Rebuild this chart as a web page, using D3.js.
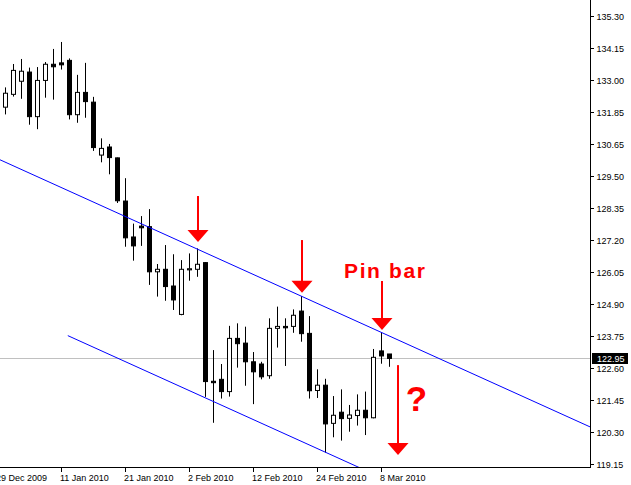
<!DOCTYPE html>
<html><head><meta charset="utf-8">
<script src="https://cdn.jsdelivr.net/npm/d3@7"></script>
<style>html,body{margin:0;padding:0;background:#fff;}svg{display:block;}</style>
</head><body>
<script>
// ---- data ----
const dates = ["2009-12-29","2009-12-30","2009-12-31","2010-01-04","2010-01-05","2010-01-06","2010-01-07","2010-01-08",
"2010-01-11","2010-01-12","2010-01-13","2010-01-14","2010-01-15","2010-01-18","2010-01-19","2010-01-20",
"2010-01-21","2010-01-22","2010-01-25","2010-01-26","2010-01-27","2010-01-28","2010-01-29","2010-02-01",
"2010-02-02","2010-02-03","2010-02-04","2010-02-05","2010-02-08","2010-02-09","2010-02-10","2010-02-11",
"2010-02-12","2010-02-15","2010-02-16","2010-02-17","2010-02-18","2010-02-19","2010-02-22","2010-02-23",
"2010-02-24","2010-02-25","2010-02-26","2010-03-01","2010-03-02","2010-03-03","2010-03-04","2010-03-05",
"2010-03-08","2010-03-09"];
const open  = [null,131.97,132.43,132.90,133.23,131.63,132.93,133.51,133.56,133.65,131.70,132.50,132.15,130.25,130.54,130.15,
128.60,127.31,127.70,127.68,126.06,126.15,125.55,124.53,126.13,126.15,126.39,122.13,122.20,121.76,123.67,123.50,
122.83,122.75,122.33,124.03,124.10,124.10,124.65,123.85,121.80,121.99,120.62,121.02,120.80,120.90,121.09,120.82,
123.22,123.11];
const high  = [null,132.68,133.52,133.70,133.39,133.41,133.59,134.06,134.31,133.72,133.13,133.56,132.34,130.85,130.65,130.16,
129.42,127.79,128.06,128.31,126.34,127.02,126.69,126.48,126.72,126.90,126.41,123.25,122.75,124.12,124.21,124.09,
123.18,122.83,124.39,124.81,124.39,124.71,125.19,124.47,122.56,122.22,121.60,121.84,121.28,121.66,121.76,123.29,
123.89,123.11];
const low   = [null,131.71,132.35,132.27,131.34,131.18,132.31,132.24,133.32,131.53,131.41,131.59,130.40,129.99,129.56,128.53,
126.96,126.46,126.99,125.59,125.17,125.02,124.69,124.50,125.74,125.88,121.57,120.64,121.51,121.58,122.62,121.97,
121.31,122.20,122.22,123.34,122.68,123.87,123.55,121.51,121.53,119.57,120.12,120.00,120.32,120.54,120.20,120.80,
122.76,122.65];
const close = [null,132.47,133.29,133.26,131.63,132.93,133.51,133.42,133.49,131.70,132.50,132.17,130.52,130.49,130.16,128.61,
127.28,126.99,127.64,126.06,126.15,125.53,125.05,126.15,126.17,126.33,122.12,122.08,121.76,123.67,123.48,122.83,
122.47,122.29,124.03,124.10,124.05,124.50,123.84,121.79,121.99,120.60,120.91,120.79,120.92,121.09,120.82,122.99,
123.04,122.95];
const priceLabels = ["135.30","134.15","133.00","131.85","130.65","129.50","128.35","127.20","126.05","124.90",
"123.75","122.60","121.45","120.30","119.15"];
const dateTicks = ["2009-12-29","2010-01-11","2010-01-21","2010-02-02","2010-02-12","2010-02-24","2010-03-08"];
const lastPrice = 122.95;
// channel: two anchor points on the upper line (bar index, price), parallel offset, lower line start bar
const channelUpper = [{i:25, p:126.88},{i:48, p:123.89}];
const channelOffset = -5.21;
const channelLowerStart = 8.85;
// arrows: bar index, shaft top price, tip price
const arrowIdx = [25, 38, 48, 50];
const arrowTop = [128.78, 127.20, 125.73, 122.71];
const arrowTip = [127.13, 125.31, 123.97, 119.48];

// ---- layout ----
const W = 631, H = 485, plotR = 590, plotB = 467;
const FONT = "'Liberation Sans', Arial, sans-serif";
const svg = d3.select("body").append("svg").attr("width", W).attr("height", H);

const x = d3.scaleLinear().domain([0, dates.length - 1]).range([-3, -3 + 8 * (dates.length - 1)]);
const y = d3.scaleLinear().domain([119.15, 135.30]).range([464.3, 14.4]);
const yTick = d3.scalePoint().domain(priceLabels).range([15.7, 464.3]);
const fmt = d3.timeFormat("%-d %b %Y");
const parse = d3.timeParse("%Y-%m-%d");

svg.append("defs").append("clipPath").attr("id","plot")
  .append("rect").attr("x",0).attr("y",0).attr("width",plotR).attr("height",plotB);

const plot = svg.append("g").attr("clip-path","url(#plot)");

// current price line
plot.append("line").attr("x1",0).attr("x2",plotR)
  .attr("y1",Math.round(y(lastPrice))+0.5).attr("y2",Math.round(y(lastPrice))+0.5)
  .attr("stroke","#c0c0c0").attr("stroke-width",1);

// candles
const bars = d3.range(dates.length).filter(i => open[i] !== null);
const cg = plot.append("g");
bars.forEach(i => {
  const c = Math.round(x(i));
  cg.append("line").attr("x1",c+0.5).attr("x2",c+0.5)
    .attr("y1",y(high[i])).attr("y2",y(low[i]))
    .attr("stroke","#000").attr("stroke-width",1);
  const top = y(Math.max(open[i],close[i])), bot = y(Math.min(open[i],close[i]));
  const bull = close[i] >= open[i];
  cg.append("rect").attr("x",c-1.5).attr("width",4)
    .attr("y",top).attr("height",Math.max(bot-top,1))
    .attr("fill", bull ? "#fff" : "#000").attr("stroke","#000").attr("stroke-width",1);
});

// channel lines
const slope = (channelUpper[1].p - channelUpper[0].p) / (channelUpper[1].i - channelUpper[0].i);
const upAt = i => channelUpper[0].p + slope * (i - channelUpper[0].i);
const iL = x.invert(0), iR = x.invert(plotR);
plot.append("line").attr("x1",x(iL)).attr("y1",y(upAt(iL))).attr("x2",x(iR)).attr("y2",y(upAt(iR)))
  .attr("stroke","#0000ff").attr("stroke-width",1);
plot.append("line").attr("x1",x(channelLowerStart)).attr("y1",y(upAt(channelLowerStart)+channelOffset))
  .attr("x2",x(iR)).attr("y2",y(upAt(iR)+channelOffset))
  .attr("stroke","#0000ff").attr("stroke-width",1);

// arrows
arrowIdx.forEach((i,k) => {
  const c = Math.round(x(i));
  const tip = y(arrowTip[k]), base = tip - 12, top = y(arrowTop[k]);
  plot.append("rect").attr("x",c).attr("width",2).attr("y",top).attr("height",base-top+1).attr("fill","#ff0000");
  plot.append("path").attr("d",`M${c+1-10.5},${base}L${c+1+10.5},${base}L${c+1},${tip}Z`).attr("fill","#ff0000");
});

// annotations
svg.append("text").attr("x",344).attr("y",278).attr("font-family",FONT).attr("font-size",21)
  .attr("font-weight","bold").attr("fill","#ff0000").attr("textLength",81).attr("lengthAdjust","spacing")
  .text("Pin bar");
svg.append("text").attr("x",416.5).attr("y",411).attr("text-anchor","middle").attr("font-family",FONT)
  .attr("font-size",35).attr("font-weight","bold").attr("fill","#ff0000").text("?");

// axes frame
svg.append("line").attr("x1",plotR+0.5).attr("x2",plotR+0.5).attr("y1",0).attr("y2",plotB+1).attr("stroke","#000");
svg.append("line").attr("x1",0).attr("x2",plotR+1).attr("y1",plotB+0.5).attr("y2",plotB+0.5).attr("stroke","#000");

// right axis
const ra = svg.append("g");
priceLabels.forEach(l => {
  const yy = Math.round(yTick(l));
  ra.append("line").attr("x1",plotR+1).attr("x2",plotR+4).attr("y1",yy+0.5).attr("y2",yy+0.5).attr("stroke","#000");
  ra.append("text").attr("x",596.5).attr("y",yy+3.5).attr("font-family",FONT).attr("font-size",9)
    .attr("fill","#000").text(l);
});
// current price label
const yp = y(lastPrice);
ra.append("rect").attr("x",592).attr("y",Math.round(yp)-5).attr("width",36).attr("height",11).attr("fill","#000");
ra.append("text").attr("x",597).attr("y",Math.round(yp)+4).attr("font-family",FONT).attr("font-size",9)
  .attr("fill","#fff").text(d3.format(".2f")(lastPrice));

// bottom axis
const ba = svg.append("g");
dateTicks.forEach(d => {
  const xx = Math.round(x(dates.indexOf(d)));
  ba.append("line").attr("x1",xx+0.5).attr("x2",xx+0.5).attr("y1",plotB+1).attr("y2",plotB+5).attr("stroke","#000");
  ba.append("text").attr("x",xx - 1).attr("y",plotB+14).attr("font-family",FONT).attr("font-size",9)
    .attr("fill","#000").text(fmt(parse(d)));
});
</script>
</body></html>
